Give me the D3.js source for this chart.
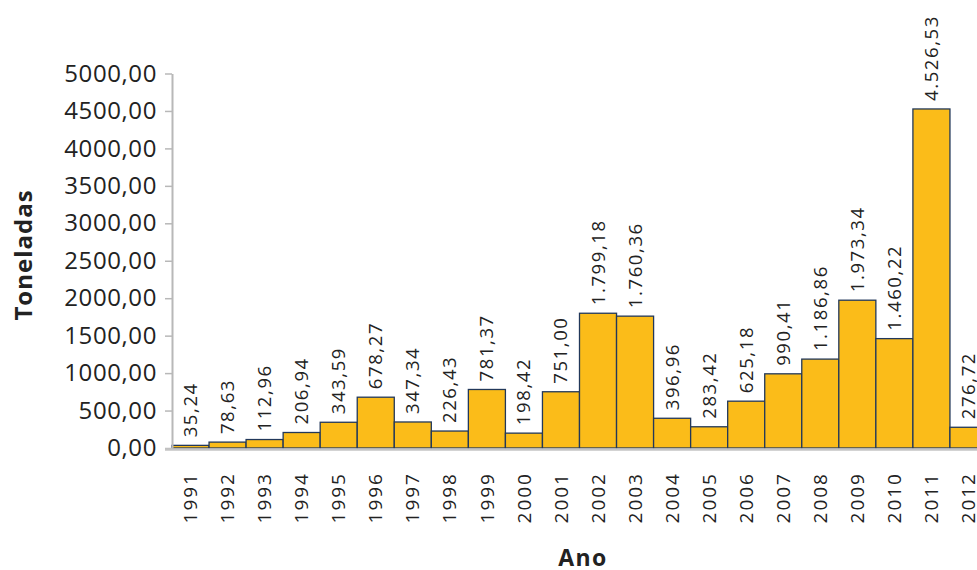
<!DOCTYPE html>
<html>
<head>
<meta charset="utf-8">
<script src="https://cdn.jsdelivr.net/npm/d3@7"></script>
<style>
  html, body { margin: 0; padding: 0; background: #fff; }
  svg { display: block; font-family: "Open Sans", sans-serif; }
</style>
</head>
<body>
<svg id="chart" width="977" height="570"></svg>
<script>
// Annual tonnage by year
const years = ["1991","1992","1993","1994","1995","1996","1997","1998","1999","2000","2001",
               "2002","2003","2004","2005","2006","2007","2008","2009","2010","2011","2012"];
const tonnes = [35.24, 78.63, 112.96, 206.94, 343.59, 678.27, 347.34, 226.43, 781.37, 198.42, 751.00,
                1799.18, 1760.36, 396.96, 283.42, 625.18, 990.41, 1186.86, 1973.34, 1460.22, 4526.53, 276.72];
const yTicks = [0, 500, 1000, 1500, 2000, 2500, 3000, 3500, 4000, 4500, 5000];

const data = years.map((y, i) => ({ year: y, value: tonnes[i] }));

const svg = d3.select("#chart");
const plotLeft = 172, plotRight = 987, plotTop = 73.5, plotBottom = 448;

const x = d3.scaleBand().domain(years).range([plotLeft, plotRight]).padding(0);
const y = d3.scaleLinear().domain([0, 5000]).range([plotBottom, plotTop]);

// pt-BR style numbers
const locale = d3.formatLocale({ decimal: ",", thousands: ".", grouping: [3], currency: ["R$", ""] });
const fmtTick = locale.format(".2f");
const fmtLabel = locale.format(",.2f");

// Bars
svg.append("g").selectAll("rect").data(data).join("rect")
  .attr("x", d => x(d.year))
  .attr("y", d => y(d.value))
  .attr("width", x.bandwidth())
  .attr("height", d => y(0) - y(d.value))
  .attr("fill", "#FBBC19")
  .attr("stroke", "#22385a")
  .attr("stroke-width", 1.3);

// Y axis
const yAxis = svg.append("g")
  .attr("transform", `translate(${plotLeft},0)`)
  .call(d3.axisLeft(y).tickValues(yTicks).tickFormat(fmtTick).tickSize(7).tickSizeOuter(0));
yAxis.select(".domain").attr("stroke", "#b8b8b8").attr("stroke-width", 2);
yAxis.selectAll(".tick line").attr("stroke", "#b8b8b8").attr("stroke-width", 1.5);
yAxis.selectAll(".tick text")
  .attr("x", -15)
  .attr("fill", "#222")
  .style("font-size", "24px")
  .style("letter-spacing", "0.6px")
  .style("font-family", "'Open Sans', sans-serif");

// X axis
const xAxis = svg.append("g")
  .attr("transform", `translate(0,${plotBottom})`)
  .call(d3.axisBottom(x).tickSize(0).tickSizeOuter(0));
xAxis.select(".domain").remove();
xAxis.append("line")
  .attr("x1", plotLeft - 7).attr("x2", 977)
  .attr("y1", 1.5).attr("y2", 1.5)
  .attr("stroke", "#c4c4c4").attr("stroke-width", 2.5);
xAxis.selectAll(".tick text")
  .attr("transform", "rotate(-90)")
  .attr("x", -24)
  .attr("y", 0)
  .attr("dy", "0.35em")
  .attr("text-anchor", "end")
  .attr("fill", "#222")
  .style("font-size", "19px")
  .style("letter-spacing", "2px")
  .style("font-family", "'Open Sans', sans-serif");

// Value labels above bars
svg.append("g").selectAll("text").data(data).join("text")
  .attr("transform", d => `translate(${x(d.year) + x.bandwidth() / 2},${y(d.value) - 8}) rotate(-90)`)
  .attr("dy", "0.35em")
  .attr("text-anchor", "start")
  .attr("fill", "#222")
  .style("font-size", "18.5px")
  .style("letter-spacing", "1.6px")
  .text(d => fmtLabel(d.value));

// Axis titles
svg.append("text")
  .attr("transform", `translate(32,255) rotate(-90)`)
  .attr("text-anchor", "middle")
  .attr("fill", "#222")
  .style("font-size", "24px")
  .style("font-weight", "bold")
  .style("letter-spacing", "1px")
  .text("Toneladas");

svg.append("text")
  .attr("x", 583)
  .attr("y", 566)
  .attr("text-anchor", "middle")
  .attr("fill", "#222")
  .style("font-size", "23px")
  .style("font-weight", "bold")
  .style("letter-spacing", "1.5px")
  .text("Ano");
</script>
</body>
</html>
